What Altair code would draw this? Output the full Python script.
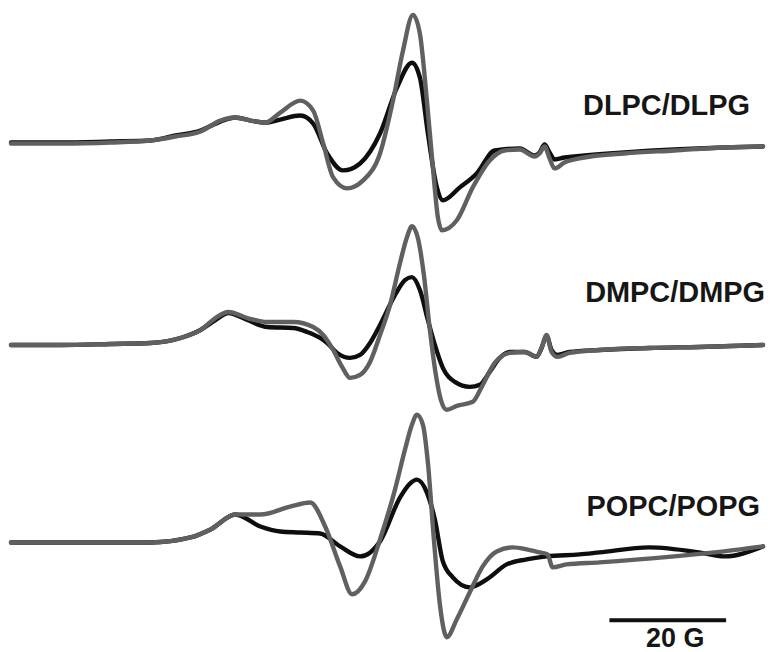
import altair as alt
import pandas as pd

# ---- spectra readings (field position along sweep, signal level; screen-down units) ----
dlpc_black_x = [10, 60, 110, 150, 175, 200, 220, 235, 250, 265, 280, 300, 313, 327, 343, 360, 380, 397, 412, 420, 428, 437, 443, 460, 477, 495, 520, 535, 540, 545, 550, 555, 565, 575, 625, 675, 725, 764]
dlpc_black_y = [142, 142, 141, 140, 135, 130, 121, 117, 120, 122, 119, 115, 123, 153, 170, 163, 133, 87, 62, 77, 133, 187, 200, 187, 173, 150, 148, 155, 152, 144, 152, 159, 157, 156, 152, 149, 147, 146]

dlpc_grey_x = [10, 60, 110, 150, 175, 200, 220, 235, 250, 265, 280, 300, 313, 323, 333, 347, 363, 380, 393, 403, 413, 420, 427, 433, 438, 442, 457, 473, 490, 505, 520, 535, 540, 545, 550, 555, 565, 580, 625, 675, 725, 764]
dlpc_grey_y = [143, 143, 142, 140, 136, 131, 120, 117, 120, 122, 112, 100, 110, 143, 177, 188, 180, 153, 100, 50, 14, 33, 100, 167, 217, 230, 220, 187, 160, 150, 149, 156, 153, 146, 158, 168, 162, 158, 153, 150, 147, 146]

dmpc_black_x = [10, 60, 110, 150, 180, 200, 215, 228, 247, 267, 293, 307, 320, 327, 337, 350, 360, 370, 380, 395, 405, 412, 420, 428, 435, 443, 455, 470, 480, 490, 500, 510, 525, 537, 542, 547, 552, 558, 570, 600, 650, 700, 764]
dmpc_black_y = [345, 345, 344, 343, 338, 330, 320, 313, 320, 327, 328, 332, 338, 343, 353, 358, 355, 343, 325, 295, 280, 277, 290, 320, 345, 368, 382, 387, 385, 372, 358, 352, 352, 357, 348, 336, 350, 355, 352, 350, 348, 347, 345]

dmpc_grey_x = [10, 60, 110, 150, 180, 200, 215, 228, 247, 267, 293, 313, 323, 333, 342, 350, 360, 370, 380, 390, 400, 407, 412, 418, 424, 430, 436, 441, 447, 457, 473, 482, 495, 510, 525, 537, 542, 547, 552, 558, 570, 600, 650, 700, 764]
dmpc_grey_y = [345, 345, 344, 343, 338, 330, 318, 312, 318, 322, 322, 327, 335, 350, 367, 378, 375, 362, 335, 305, 263, 237, 226, 238, 275, 330, 375, 400, 410, 406, 402, 387, 363, 353, 352, 357, 348, 335, 352, 357, 353, 350, 348, 347, 345]

popc_black_x = [10, 80, 150, 190, 210, 235, 260, 280, 300, 320, 340, 360, 380, 400, 410, 417, 427, 435, 443, 453, 470, 487, 507, 527, 547, 580, 600, 650, 700, 725, 764]
popc_black_y = [543, 543, 543, 538, 530, 515, 527, 532, 533, 534, 547, 557, 542, 498, 484, 480, 493, 520, 562, 578, 588, 580, 565, 560, 557, 555, 553, 548, 553, 557, 547]

popc_grey_x = [10, 80, 150, 190, 210, 235, 260, 290, 310, 325, 340, 352, 365, 380, 395, 405, 412, 417, 423, 428, 434, 440, 447, 457, 470, 483, 497, 513, 527, 540, 548, 553, 567, 600, 675, 725, 764]
popc_grey_y = [543, 543, 543, 538, 530, 515, 515, 507, 503, 527, 567, 595, 582, 540, 490, 450, 425, 415, 425, 463, 540, 605, 638, 620, 593, 567, 552, 548, 550, 553, 555, 568, 565, 563, 557, 552, 547]

# ---- labels ----
label_text = ["DLPC/DLPG", "DMPC/DMPG", "POPC/POPG"]
label_x = [751, 766, 761]
label_y = [105, 293, 507]

scale_start = [610]
scale_end = [727]
scale_level = [621]
scale_text = ["20 G"]
scale_text_x = [676]
scale_text_y = [640]

series = [
    ("DLPC/DLPG", "black", dlpc_black_x, dlpc_black_y),
    ("DLPC/DLPG", "grey", dlpc_grey_x, dlpc_grey_y),
    ("DMPC/DMPG", "black", dmpc_black_x, dmpc_black_y),
    ("DMPC/DMPG", "grey", dmpc_grey_x, dmpc_grey_y),
    ("POPC/POPG", "black", popc_black_x, popc_black_y),
    ("POPC/POPG", "grey", popc_grey_x, popc_grey_y),
]
rows = []
for panel, kind, xs_, ys_ in series:
    for i, (xv, yv) in enumerate(zip(xs_, ys_)):
        rows.append({"trace": panel + " " + kind, "kind": kind, "field": xv, "signal": yv, "order": i})
df = pd.DataFrame(rows)

labels_df = pd.DataFrame({"label": label_text, "field": label_x, "signal": label_y})
bar_df = pd.DataFrame({"start": scale_start, "end": scale_end, "signal": scale_level})
bar_text_df = pd.DataFrame({"label": scale_text, "field": scale_text_x, "signal": scale_text_y})

W, H = 758, 630
xsc = alt.Scale(domain=[8, 8 + W], nice=False, zero=False)
ysc = alt.Scale(domain=[8, 8 + H], reverse=True, nice=False, zero=False)

def trace_layer(kind, color):
    return alt.Chart(df[df["kind"] == kind]).mark_line(
        strokeWidth=4.4, interpolate="monotone", color=color, strokeJoin="round", strokeCap="round"
    ).encode(
        x=alt.X("field:Q", scale=xsc, axis=None),
        y=alt.Y("signal:Q", scale=ysc, axis=None),
        detail="trace:N",
        order="order:Q",
    )

black = trace_layer("black", "#0e0e0e")
grey = trace_layer("grey", "#606060")

labels = alt.Chart(labels_df).mark_text(
    align="right", baseline="middle", font="Liberation Sans", fontWeight="bold",
    fontSize=29, color="#161616"
).encode(
    x=alt.X("field:Q", scale=xsc, axis=None),
    y=alt.Y("signal:Q", scale=ysc, axis=None),
    text="label:N",
)

bar = alt.Chart(bar_df).mark_rule(strokeWidth=4, color="#111111").encode(
    x=alt.X("start:Q", scale=xsc, axis=None),
    x2="end:Q",
    y=alt.Y("signal:Q", scale=ysc, axis=None),
)

bar_text = alt.Chart(bar_text_df).mark_text(
    align="center", baseline="middle", font="Liberation Sans", fontWeight="bold",
    fontSize=27, color="#161616"
).encode(
    x=alt.X("field:Q", scale=xsc, axis=None),
    y=alt.Y("signal:Q", scale=ysc, axis=None),
    text="label:N",
)

chart = alt.layer(black, grey, labels, bar, bar_text).properties(
    width=W, height=H, padding=0, background="white"
).configure_view(strokeWidth=0)

chart.save("out.html", embed_options={"renderer": "svg", "actions": False})
